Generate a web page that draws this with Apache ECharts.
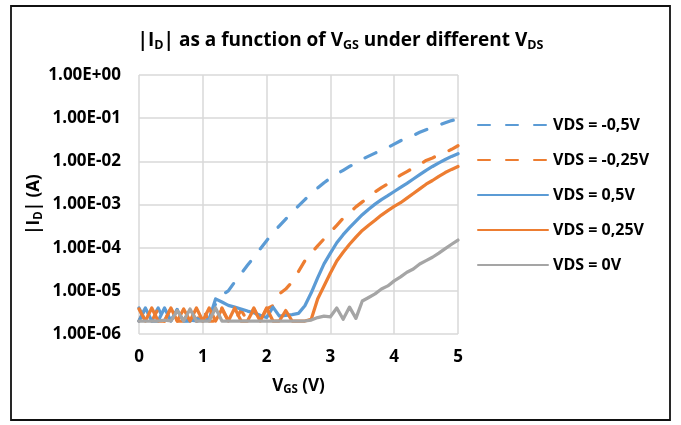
<!DOCTYPE html>
<html><head><meta charset="utf-8">
<script src="https://cdn.jsdelivr.net/npm/echarts@6/dist/echarts.min.js"></script>
<style>html,body{margin:0;padding:0;background:#fff}#c{width:681px;height:425px}</style>
</head><body><div id="c"></div>
<script>
// VGS (V) sample points
const vgs = [0.0,0.1,0.2,0.3,0.4,0.5,0.6,0.7,0.8,0.9,
  1.0,1.1,1.2,1.3,1.4,1.5,1.6,1.7,1.8,1.9,
  2.0,2.1,2.2,2.3,2.4,2.5,2.6,2.7,2.8,2.9,
  3.0,3.1,3.2,3.3,3.4,3.5,3.6,3.7,3.8,3.9,
  4.0,4.1,4.2,4.3,4.4,4.5,4.6,4.7,4.8,4.9,5.0];
// |ID| (A) for VDS = -0,5V
const idNeg05 = [4.0e-6,2.0e-6,2.2e-6,4.0e-6,2.0e-6,2.0e-6,3.8e-6,2.0e-6,2.1e-6,2.0e-6,
  2.0e-6,2.2e-6,5.0e-6,8.0e-6,1.0e-5,1.6e-5,2.5e-5,3.9e-5,6.0e-5,9.3e-5,
  1.45e-4,2.2e-4,3.2e-4,4.6e-4,6.6e-4,9.3e-4,1.3e-3,1.8e-3,2.4e-3,3.2e-3,
  4.1e-3,5.1e-3,6.2e-3,7.6e-3,9.3e-3,1.12e-2,1.32e-2,1.55e-2,1.8e-2,2.1e-2,
  2.5e-2,3.0e-2,3.5e-2,4.0e-2,4.7e-2,5.4e-2,6.1e-2,6.9e-2,7.8e-2,8.8e-2,9.5e-2];
// VDS = -0,25V
const idNeg025 = [2.0e-6,4.0e-6,2.0e-6,3.8e-6,2.0e-6,4.0e-6,2.0e-6,2.0e-6,4.0e-6,2.0e-6,
  3.8e-6,2.0e-6,2.0e-6,4.0e-6,2.0e-6,2.0e-6,3.6e-6,2.0e-6,4.0e-6,2.0e-6,
  3.8e-6,4.5e-6,8.5e-6,1.1e-5,1.6e-5,2.8e-5,5.0e-5,7.5e-5,1.1e-4,1.6e-4,
  2.3e-4,3.3e-4,4.8e-4,6.5e-4,8.8e-4,1.15e-3,1.5e-3,1.95e-3,2.45e-3,3.0e-3,
  3.8e-3,4.8e-3,5.8e-3,7.0e-3,8.5e-3,1.05e-2,1.2e-2,1.4e-2,1.6e-2,1.9e-2,2.3e-2];
// VDS = 0,5V
const idPos05 = [2.0e-6,4.0e-6,2.0e-6,2.0e-6,4.0e-6,2.0e-6,3.6e-6,2.0e-6,2.0e-6,2.3e-6,
  2.0e-6,2.2e-6,6.5e-6,5.5e-6,4.6e-6,4.2e-6,3.8e-6,3.4e-6,3.1e-6,2.7e-6,
  2.4e-6,4.2e-6,2.6e-6,2.7e-6,2.8e-6,3.0e-6,4.5e-6,9.0e-6,2.0e-5,4.2e-5,
  7.5e-5,1.3e-4,2.0e-4,2.9e-4,4.1e-4,5.8e-4,7.8e-4,1.02e-3,1.3e-3,1.6e-3,
  2.0e-3,2.5e-3,3.1e-3,3.9e-3,4.9e-3,6.2e-3,7.6e-3,9.2e-3,1.1e-2,1.3e-2,1.5e-2];
// VDS = 0,25V
const idPos025 = [3.8e-6,2.0e-6,4.0e-6,2.0e-6,2.0e-6,4.0e-6,2.0e-6,3.8e-6,2.0e-6,4.0e-6,
  2.0e-6,4.0e-6,2.0e-6,3.8e-6,2.0e-6,4.0e-6,2.0e-6,2.0e-6,3.8e-6,2.0e-6,
  4.0e-6,2.0e-6,2.0e-6,3.5e-6,2.0e-6,2.0e-6,2.0e-6,2.2e-6,6.5e-6,1.3e-5,
  2.6e-5,4.9e-5,7.8e-5,1.2e-4,1.75e-4,2.5e-4,3.3e-4,4.3e-4,5.7e-4,7.2e-4,
  9.0e-4,1.1e-3,1.4e-3,1.8e-3,2.3e-3,2.95e-3,3.6e-3,4.5e-3,5.5e-3,6.5e-3,7.6e-3];
// VDS = 0V
const id0 = [2.0e-6,2.0e-6,2.0e-6,2.0e-6,2.1e-6,2.0e-6,3.5e-6,2.0e-6,3.8e-6,2.0e-6,
  2.0e-6,2.0e-6,4.0e-6,2.0e-6,2.0e-6,2.0e-6,2.0e-6,2.0e-6,2.0e-6,2.0e-6,
  2.0e-6,2.0e-6,2.0e-6,2.0e-6,2.0e-6,2.0e-6,2.0e-6,2.1e-6,2.4e-6,2.6e-6,
  2.5e-6,4.0e-6,2.2e-6,4.2e-6,2.3e-6,5.8e-6,7.0e-6,8.5e-6,1.1e-5,1.3e-5,
  1.7e-5,2.1e-5,2.7e-5,3.2e-5,4.2e-5,5.0e-5,6.0e-5,7.5e-5,9.5e-5,1.2e-4,1.5e-4];

const seriesNames = ['VDS = -0,5V','VDS = -0,25V','VDS = 0,5V','VDS = 0,25V','VDS = 0V'];
const titleText = '|I{s|D}| as a function of V{s|GS} under different V{s|DS}';
const xName = 'V{s|GS} (V)';
const yName = '|I{s|D}| (A)';

const F = 'Open Sans';
const BLUE = '#5B9BD5', ORANGE = '#ED7D31', GRAY = '#A5A5A5';
const LW = 3.25;
function subStyle(size) {
  return { fontFamily: F, fontSize: size, fontWeight: 'bold', color: '#000', verticalAlign: 'bottom', lineHeight: size };
}

function sci(v) {
  const e = Math.floor(Math.log10(v) + 1e-9);
  const m = v / Math.pow(10, e);
  const a = Math.abs(e);
  return m.toFixed(2) + 'E' + (e < 0 ? '-' : '+') + (a < 10 ? '0' : '') + a;
}
function mk(name, ys, color, dashed) {
  return {
    name, type: 'line', symbol: 'none', animation: false,
    data: vgs.map((x, i) => [x, ys[i]]),
    lineStyle: { color, width: LW, type: dashed ? [12, 16] : 'solid', cap: 'round', join: 'round' },
    itemStyle: { color }
  };
}

const chart = echarts.init(document.getElementById('c'), null, { renderer: 'canvas' });
chart.setOption({
  animation: false,
  backgroundColor: '#fff',
  graphic: [{ type: 'rect', shape: { x: 11, y: 6, width: 659, height: 414 }, style: { fill: 'none', stroke: '#111', lineWidth: 1.8 }, z: 100 }],
  title: {
    text: titleText, left: 'center', top: 25,
    textStyle: { fontFamily: F, fontSize: 19, fontWeight: 'bold', color: '#000', lineHeight: 22, rich: { s: subStyle(12.5) } }
  },
  grid: { left: 139, right: 223, top: 75, bottom: 91 },
  legend: {
    orient: 'vertical', left: 477, top: 117, padding: 0, itemWidth: 70, itemHeight: 14, itemGap: 19,
    data: seriesNames,
    itemStyle: { opacity: 0 },
    textStyle: { fontFamily: F, fontSize: 16, fontWeight: 'bold', color: '#000', lineHeight: 14 }
  },
  xAxis: {
    type: 'value', min: 0, max: 5, interval: 1,
    name: xName, nameLocation: 'middle', nameGap: 42,
    nameTextStyle: { fontFamily: F, fontSize: 17, fontWeight: 'bold', color: '#000', lineHeight: 20, rich: { s: subStyle(11.5) } },
    axisLine: { show: false }, axisTick: { show: false },
    axisLabel: { fontFamily: F, fontSize: 17, fontWeight: 'bold', color: '#000', margin: 15 },
    splitLine: { show: true, lineStyle: { color: '#d9d9d9', width: 1.5 } }
  },
  yAxis: {
    type: 'log', logBase: 10, min: 1e-6, max: 1,
    name: yName, nameLocation: 'middle', nameGap: 94, nameRotate: 90,
    nameTextStyle: { fontFamily: F, fontSize: 17, fontWeight: 'bold', color: '#000', lineHeight: 20, rich: { s: subStyle(11.5) } },
    axisLine: { show: false }, axisTick: { show: false },
    axisLabel: { fontFamily: F, fontSize: 17, fontWeight: 'bold', color: '#000', margin: 18, formatter: sci },
    splitLine: { show: true, lineStyle: { color: '#d9d9d9', width: 1.5 } }
  },
  series: [
    mk(seriesNames[0], idNeg05, BLUE, true),
    mk(seriesNames[1], idNeg025, ORANGE, true),
    mk(seriesNames[2], idPos05, BLUE, false),
    mk(seriesNames[3], idPos025, ORANGE, false),
    mk(seriesNames[4], id0, GRAY, false)
  ]
});
</script></body></html>
